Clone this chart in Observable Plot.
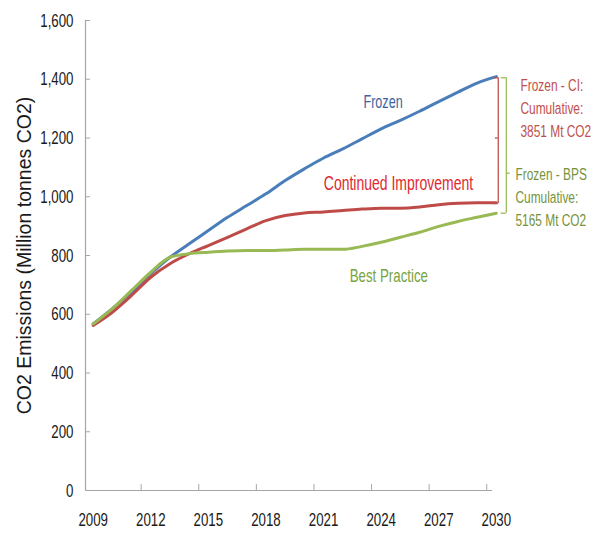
<!DOCTYPE html>
<html>
<head>
<meta charset="utf-8">
<script src="https://cdn.jsdelivr.net/npm/d3@7"></script>
<script src="https://cdn.jsdelivr.net/npm/@observablehq/plot@0.6"></script>
<style>
  html, body { margin: 0; padding: 0; background: #fff; }
  #chart { width: 596px; height: 533px; }
</style>
</head>
<body>
<div id="chart"></div>
<script>
const years = d3.range(2009, 2031);
const frozen = [567, 619, 675, 738, 794, 840, 885, 930, 970, 1010, 1055, 1095, 1132, 1163, 1197, 1231, 1260, 1291, 1324, 1356, 1387, 1409];
const continued = [562, 607, 664, 726, 772, 806, 834, 862, 891, 919, 936, 945, 948, 953, 958, 961, 961, 965, 973, 978, 980, 980];
const bestPractice = [567, 619, 681, 743, 794, 806, 811, 815, 817, 817, 819, 821, 821, 821, 831, 845, 862, 879, 899, 916, 930, 944];

const seriesNames = ["Frozen", "Continued Improvement", "Best Practice"];
const seriesColors = ["#4a7ebb", "#be4b48", "#98b954"];
const labelColors = ["#3c64a0", "#e0282e", "#79a33f"];
const labelSizes = [18, 20, 19];
const labelPos = [[2024.1, 1321], [2024.9, 1045], [2024.4, 732]];

const xTickLabels = [2009, 2012, 2015, 2018, 2021, 2024, 2027, 2030];
const xTickMarks = [2011.5, 2014.5, 2017.5, 2020.5, 2023.5, 2026.5, 2029.5];
const yTicks = [0, 200, 400, 600, 800, 1000, 1200, 1400, 1600];
const yTitle = "CO2 Emissions (Million tonnes CO2)";

const ciNote = "Frozen - CI:\nCumulative:\n3851 Mt CO2";
const bpsNote = "Frozen - BPS\nCumulative:\n5165 Mt CO2";
const ciNoteY = 1307, bpsNoteY = 1004;

const xDomain = [2008.6, 2029.8];

const rows = [];
[frozen, continued, bestPractice].forEach((vals, s) => {
  vals.forEach((v, i) => rows.push({year: years[i], value: v, series: seriesNames[s]}));
});

const font = "'Liberation Sans', Arial, sans-serif";
const axisGray = "#a6a6a6";
const narrowScale = 0.7;

// bracket values (data units)
const redTop = 1405, redBottom = 977, redMid = 1200;
const greenTop = 1405, greenBottom = 944, greenMid = 1080;

const chart = Plot.plot({
  width: 596,
  height: 533,
  marginLeft: 85,
  marginRight: 104,
  marginTop: 20,
  marginBottom: 43,
  style: {fontFamily: font, fontSize: "19px", color: "#1a1a1a", background: "#fff"},
  x: {domain: xDomain},
  y: {domain: [0, 1600]},
  color: {domain: seriesNames, range: seriesColors},
  marks: [
    Plot.ruleY([0], {stroke: axisGray, strokeWidth: 1.2}),
    Plot.ruleX([xDomain[0]], {stroke: axisGray, strokeWidth: 1.2}),
    Plot.ruleX(xTickMarks, {y1: 0, y2: 20, stroke: axisGray}),
    Plot.ruleY(yTicks, {x1: xDomain[0], x2: xDomain[0] + 0.26, stroke: axisGray}),
    Plot.axisY({ticks: yTicks, tickFormat: d3.format(","), tickSize: 0, tickPadding: 12, label: null, fontSize: 19, fill: "#1a1a1a"}),
    Plot.axisX({ticks: xTickLabels, tickFormat: d => String(d), tickSize: 0, tickPadding: 22, label: null, fontSize: 19, fill: "#1a1a1a"}),
    Plot.text([yTitle], {frameAnchor: "left", textAnchor: "middle", rotate: -90, dx: -61, fontSize: 19.5, fill: "#1a1a1a"}),
    Plot.line(rows, {x: "year", y: "value", stroke: "series", strokeWidth: 3, curve: "monotone-x"}),
    Plot.text(seriesNames, {x: (d, i) => labelPos[i][0], y: (d, i) => labelPos[i][1], text: d => d, fill: (d, i) => labelColors[i], fontSize: (d, i) => labelSizes[i]}),
    // red bracket (Frozen - CI)
    Plot.ruleX([2030.1], {y1: redTop, y2: redBottom, stroke: "#c0504d", strokeWidth: 1.3}),
    Plot.ruleY([redTop, redBottom], {x1: 2029.85, x2: 2030.1, stroke: "#c0504d", strokeWidth: 1.3}),
    Plot.ruleY([redMid], {x1: 2029.95, x2: 2030.1, stroke: "#c0504d", strokeWidth: 1.3}),
    // green bracket (Frozen - BPS)
    Plot.ruleX([2030.52], {y1: greenTop, y2: greenBottom, stroke: "#9bbb59", strokeWidth: 1.3}),
    Plot.ruleY([greenTop, greenBottom], {x1: 2030.25, x2: 2030.52, stroke: "#9bbb59", strokeWidth: 1.3}),
    Plot.ruleY([greenMid], {x1: 2030.52, x2: 2030.72, stroke: "#9bbb59", strokeWidth: 1.3}),
    Plot.text([ciNote], {frameAnchor: "right", y: ciNoteY, dx: 28, textAnchor: "start", lineHeight: 1.35, fill: "#c0504d", fontSize: 17}),
    Plot.text([bpsNote], {frameAnchor: "right", y: bpsNoteY, dx: 23, textAnchor: "start", lineHeight: 1.35, fill: "#76933c", fontSize: 17})
  ]
});

// condensed lettering like the original (horizontal squeeze around each text's anchor)
d3.select(chart).selectAll("text").each(function() {
  if (this.textContent === yTitle) return;
  const t = this.getAttribute("transform") || "";
  const x = +this.getAttribute("x") || 0, y = +this.getAttribute("y") || 0;
  this.setAttribute("transform", `${t} translate(${x},${y}) scale(${narrowScale},1) translate(${-x},${-y})`);
});

document.getElementById("chart").appendChild(chart);
</script>
</body>
</html>
